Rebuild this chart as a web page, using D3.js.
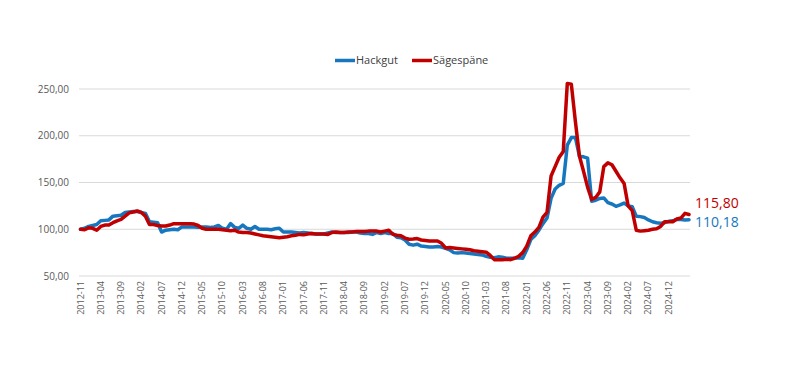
<!DOCTYPE html>
<html><head><meta charset="utf-8">
<script src="https://cdn.jsdelivr.net/npm/d3@7"></script>
<style>body{margin:0;background:#fff}svg{display:block}text{font-family:"Open Sans",Lato,sans-serif}</style>
</head><body><svg id="c" width="805" height="386"></svg>
<script>
const startYear = 2012, startMonth = 11;
const hackgut = [100,101,103,104,105,109,109.5,110,114,114.5,115,118,118.5,119,119,118,117,108,107.5,107,
97,99,99.5,100,99.5,102.5,102.5,102.5,102.5,102,102.5,102.5,102,102.5,104,101,100,106,102,101,
104.5,101,100,103,100,100,100,99.5,100.5,101,97,97,97,96.5,96,96.5,96,95.5,95,95,
95,96,97,96.5,96.5,96.5,96.5,97,97,96,95.5,95.5,94.5,96.5,95.5,96.5,95.5,95.5,91.5,91,
88.5,84,83,84,82,81.5,81,81,81.5,81,79.5,78,75,74.5,75,74.5,74,73.5,73,72.5,
71,70,69.5,70.5,70,69,69,69,69.5,69,78,89,93,99,106,112,133,143,147,149,
190,198,198,178,177.5,176,130,131,133,133.5,128.5,127,124.5,126,128,125,124,114,113.5,112.5,
110,108,107,106.5,107,108.5,109,110.5,110.5,110,110.18];
const saegespaene = [100,99.5,101.5,101,99,103,104.5,104.5,107,109,110.5,114,117.5,118.5,119.5,118,114,105,105,104,
103.5,103.5,104.5,106,106,106,106,106,105.5,104,101,100,100,100,100,99.5,99,98.5,99,97,
96.5,96.5,96,95,94,93,92.5,92,91.5,91,91.5,92,93,93.5,94.5,94,95,95.5,95,95,
95,94.5,96.5,97,96.5,96.5,97,97,97.5,97.5,97.5,98,98,98,97,98,99,94.5,93.5,93,
90.5,89.3,89.5,90,88.5,88,87.5,87.5,87.5,85,80,80.5,80,79.5,79,78.5,78,77,76.5,76,
75.5,72,67.5,67.5,67.5,68,67.5,69,71,75,82,93,97,102,113,118,157,167,177,183,
256,255,215,178,162,145,132,134,140,167,171,169,162,155,149,125,120,99,98,98.5,
99,100,100.5,103,108,108,108,111,112,117,115.8];
const yTicks = [50,100,150,200,250];
const xTickLabels = ["2012-11","2013-04","2013-09","2014-02","2014-07","2014-12","2015-05","2015-10","2016-03","2016-08",
"2017-01","2017-06","2017-11","2018-04","2018-09","2019-02","2019-07","2019-12","2020-05","2020-10",
"2021-03","2021-08","2022-01","2022-06","2022-11","2023-04","2023-09","2024-02","2024-07","2024-12"];
const seriesNames = ["Hackgut","Sägespäne"];
const colors = ["#1677bf","#c00000"];
const endLabels = ["110,18","115,80"];

const months = hackgut.map((d,i)=>{const m=startMonth-1+i;return (startYear+Math.floor(m/12))+"-"+String(m%12+1).padStart(2,"0");});
const svg = d3.select("#c");
const x = d3.scalePoint().domain(months).range([80.5,689]);
const y = d3.scaleLinear().domain([50,250]).range([276,89]);

// gridlines
svg.append("g").selectAll("line").data(yTicks).join("line")
  .attr("x1",79).attr("x2",690).attr("y1",d=>y(d)).attr("y2",d=>y(d))
  .attr("stroke","#d9d9d9").attr("stroke-width",1);
// y labels
svg.append("g").selectAll("text").data(yTicks).join("text")
  .attr("x",69).attr("y",d=>y(d)).attr("dy","0.35em").attr("text-anchor","end")
  .attr("font-size",10).attr("fill","#595959")
  .text(d=>d3.format(".2f")(d).replace(".",","));
// x labels
svg.append("g").selectAll("text").data(xTickLabels).join("text")
  .attr("transform",d=>`translate(${x(d)+3},281) rotate(-90)`)
  .attr("text-anchor","end").attr("font-size",9).attr("fill","#595959").text(d=>d);

const line = d3.line().x((d,i)=>x(months[i])).y(d=>y(d));
[hackgut,saegespaene].forEach((s,k)=>{
  svg.append("path").datum(s).attr("d",line).attr("fill","none")
    .attr("stroke",colors[k]).attr("stroke-width",3.5).attr("stroke-linejoin","round").attr("stroke-linecap","round");
});
// end labels
const lastM = months[months.length-1];
svg.append("text").attr("x",x(lastM)+6).attr("y",y(saegespaene[saegespaene.length-1])-6)
  .attr("font-family","Liberation Sans, Arial, sans-serif")
  .attr("font-size",14).attr("fill",colors[1]).text(endLabels[1]);
svg.append("text").attr("x",x(lastM)+6).attr("y",y(hackgut[hackgut.length-1])+7.5)
  .attr("font-family","Liberation Sans, Arial, sans-serif")
  .attr("font-size",14).attr("fill",colors[0]).text(endLabels[0]);

// legend
const lg = svg.append("g");
const lx = [335,412];
seriesNames.forEach((n,k)=>{
  lg.append("line").attr("x1",lx[k]).attr("x2",lx[k]+20).attr("y1",60.5).attr("y2",60.5)
    .attr("stroke",colors[k]).attr("stroke-width",3.5);
  lg.append("text").attr("x",lx[k]+21).attr("y",60.5).attr("dy","0.35em")
    .attr("font-size",11).attr("fill","#404040").text(n);
});
</script></body></html>
